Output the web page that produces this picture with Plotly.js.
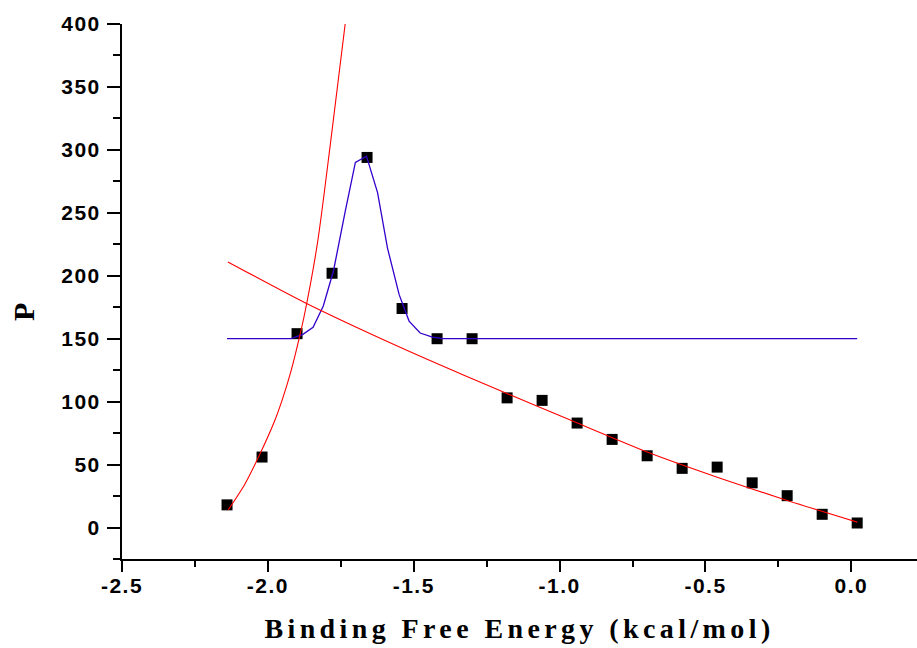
<!DOCTYPE html>
<html>
<head>
<meta charset="utf-8">
<script src="https://cdn.plot.ly/plotly-3.0.1.min.js"></script>
<style>
  html, body { margin: 0; padding: 0; background: #fff; }
  #chart { width: 917px; height: 648px; }
  .xtitle { letter-spacing: 4.4px; }
  .xtick text, .ytick text { letter-spacing: 1.5px; }
</style>
</head>
<body>
<div id="chart"></div>
<script>
// Data points (Binding Free Energy, P)
const energy = [-2.14, -2.02, -1.90, -1.78, -1.66, -1.54, -1.42, -1.30, -1.18, -1.06, -0.94, -0.82, -0.70, -0.58, -0.46, -0.34, -0.22, -0.10, 0.02];
const pValues = [18, 56, 154, 202, 294, 174, 150, 150, 103, 101, 83, 70, 57, 47, 48, 35.5, 25.3, 10.5, 3.6];

// Gaussian fit curve (blue)
const gaussX = [-2.14, -1.92, -1.88, -1.845, -1.81, -1.775, -1.735, -1.70, -1.662, -1.624, -1.59, -1.55, -1.516, -1.478, -1.436, -1.40, 0.02];
const gaussY = [150, 150, 153.5, 159, 176, 204, 251, 290, 295, 266, 222, 185, 164, 154.5, 151.2, 150, 150];

// Steep exponential fit curve (red)
const expX = [-2.136, -2.08, -2.03, -1.978, -1.95, -1.921, -1.893, -1.872, -1.83, -1.784, -1.735];
const expY = [14, 34, 57, 84, 102, 124, 150, 172, 226, 308, 400];

// Decaying fit curve (red)
const decayX = [-2.137, -1.876, -1.545, -1.328, -1.099, -0.939, -0.70, -0.46, -0.22, 0.02];
const decayY = [211, 179, 143, 121, 98.5, 83, 60, 40, 21.5, 4.3];

// Axis ticks
const xTickVals = [-2.5, -2.0, -1.5, -1.0, -0.5, 0.0];
const xTickText = ["-2.5", "-2.0", "-1.5", "-1.0", "-0.5", "0.0"];
const xMinorVals = [-2.25, -1.75, -1.25, -0.75, -0.25];
const yTickVals = [0, 50, 100, 150, 200, 250, 300, 350, 400];
const yTickText = ["0", "50", "100", "150", "200", "250", "300", "350", "400"];
const yMinorVals = [-25, 25, 75, 125, 175, 225, 275, 325, 375];

const xTitle = "Binding Free Energy (kcal/mol)";
const yTitle = "P";

const traces = [
  {
    x: energy, y: pValues, type: 'scatter', mode: 'markers',
    marker: { symbol: 'square', size: 11, color: '#000000', line: { width: 0 } },
    hoverinfo: 'x+y', showlegend: false
  },
  {
    x: gaussX, y: gaussY, type: 'scatter', mode: 'lines',
    line: { color: '#3300cc', width: 1.3 }, showlegend: false
  },
  {
    x: expX, y: expY, type: 'scatter', mode: 'lines',
    line: { color: '#ff0000', width: 1.1, shape: 'spline', smoothing: 0.8 }, showlegend: false
  },
  {
    x: decayX, y: decayY, type: 'scatter', mode: 'lines',
    line: { color: '#ff0000', width: 1.1, shape: 'spline', smoothing: 0.6 }, showlegend: false
  }
];

const tickFont = { family: 'Liberation Sans, Arial, sans-serif', size: 21, color: '#000', weight: 'bold' };

const layout = {
  width: 917, height: 648,
  margin: { l: 122, r: 0, t: 24, b: 89 },
  paper_bgcolor: '#ffffff', plot_bgcolor: '#ffffff',
  showlegend: false,
  xaxis: {
    range: [-2.5, 0.225],
    tickmode: 'array', tickvals: xTickVals, ticktext: xTickText,
    showline: true, linecolor: '#000', linewidth: 2,
    ticks: 'outside', ticklen: 11, tickwidth: 2, tickcolor: '#000',
    minor: { tickmode: 'array', tickvals: xMinorVals, ticks: 'outside', ticklen: 6, tickwidth: 2, tickcolor: '#000', showgrid: false },
    showgrid: false, zeroline: false,
    tickfont: tickFont, ticklabelstandoff: -4,
    title: { text: xTitle, standoff: 22, font: { family: 'Liberation Serif, Times New Roman, serif', size: 28, color: '#000', weight: 'bold' } }
  },
  yaxis: {
    range: [-25, 400],
    tickmode: 'array', tickvals: yTickVals, ticktext: yTickText,
    showline: true, linecolor: '#000', linewidth: 2,
    ticks: 'outside', ticklen: 13, tickwidth: 2, tickcolor: '#000',
    minor: { tickmode: 'array', tickvals: yMinorVals, ticks: 'outside', ticklen: 7, tickwidth: 2, tickcolor: '#000', showgrid: false },
    showgrid: false, zeroline: false,
    tickfont: tickFont, ticklabelstandoff: 2
  },
  annotations: [
    {
      text: yTitle, xref: 'paper', yref: 'paper',
      x: -0.1233, y: 0.4617, xanchor: 'center', yanchor: 'middle',
      textangle: -90, showarrow: false,
      font: { family: 'Liberation Serif, Times New Roman, serif', size: 30, color: '#000', weight: 'bold' }
    }
  ]
};

Plotly.newPlot('chart', traces, layout, { displayModeBar: false, staticPlot: true });
</script>
</body>
</html>
